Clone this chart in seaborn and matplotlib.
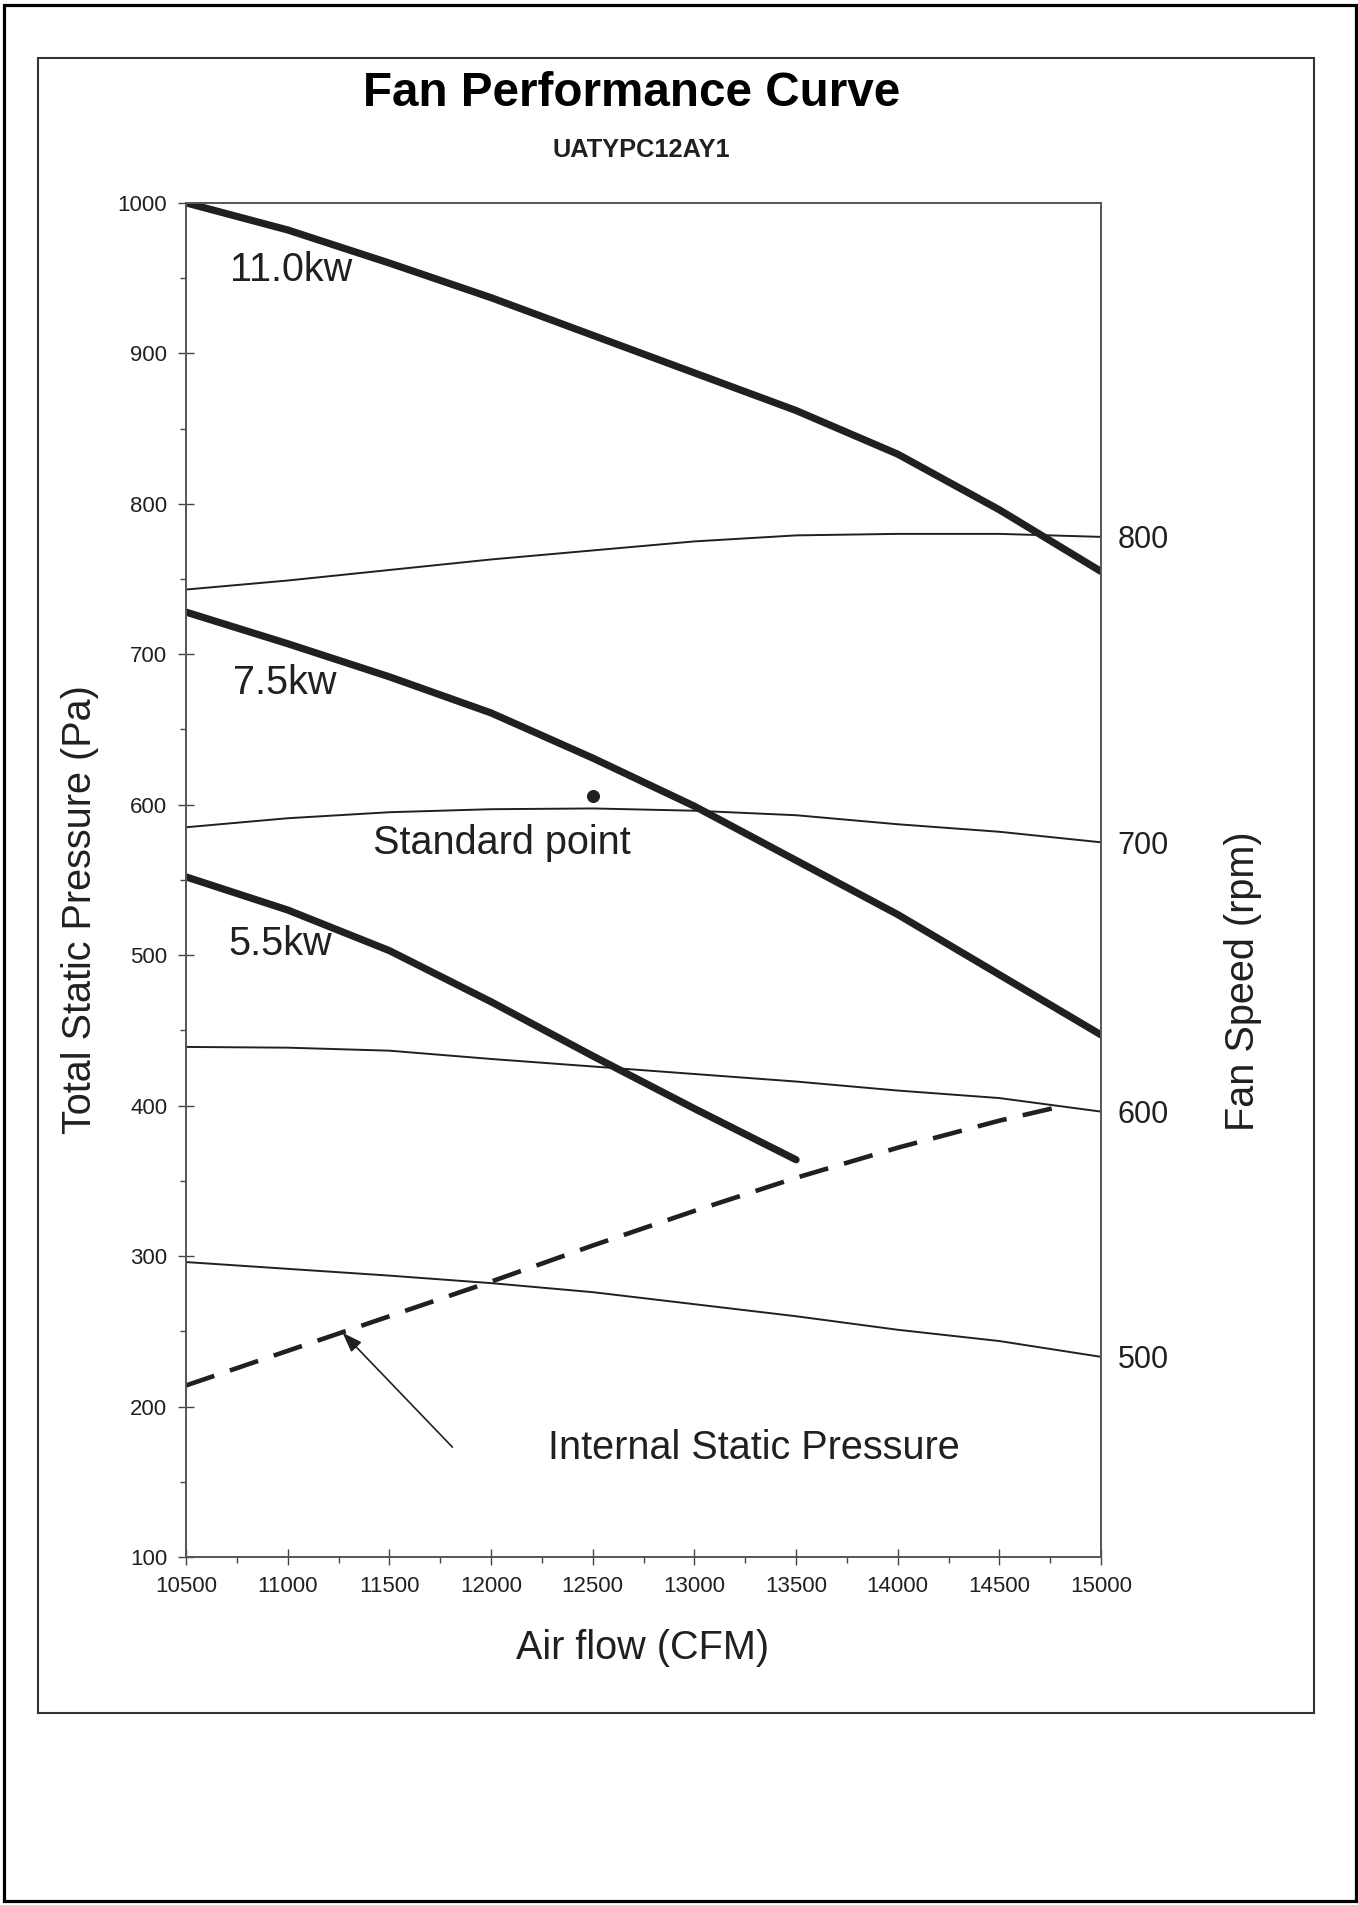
import matplotlib
matplotlib.use("Agg")
import matplotlib.pyplot as plt
from matplotlib.patches import Rectangle
from matplotlib.ticker import MultipleLocator
import seaborn as sns

# air flow grid (CFM)
airflow = [10500, 11000, 11500, 12000, 12500, 13000, 13500, 14000, 14500, 15000]

# motor power curves, total static pressure (Pa)
kw_11_0 = [1000, 982, 960, 937, 912, 887, 862, 833, 796, 755]
kw_7_5 = [728, 707, 685, 661, 631, 599, 563, 527, 487, 447]
kw_5_5 = [552, 530, 503, 469, 433, 398, 364]  # ends at 13500 CFM
kw_labels = ["11.0kw", "7.5kw", "5.5kw"]

# fan speed curves (Pa)
rpm_800 = [743, 749, 756, 763, 769, 775, 779, 780, 780, 778]
rpm_700 = [585, 591, 595, 597, 597.5, 596, 593, 587, 582, 575]
rpm_600 = [439, 438.5, 436.5, 431, 426, 421, 416, 410, 405, 396]
rpm_500 = [296, 291.5, 287, 282, 276, 268, 260, 251, 243.5, 233]
rpm_labels = ["800", "700", "600", "500"]

# internal static pressure line
isp_flow = [10500, 11000, 11500, 12000, 12500, 13000, 13500, 14000, 14500, 14820]
isp_pa = [214, 237, 260, 283, 307, 330, 352, 372, 390, 400]

# standard operating point
std_flow = [12500]
std_pa = [606]

sns.set_theme(style="white")
plt.rcParams['font.family'] = ['Liberation Sans', 'DejaVu Sans']
ink = '#231f20'

fig = plt.figure(figsize=(13.58, 19.05), dpi=100)
ax = fig.add_axes([0.137, 0.1827, 0.6738, 0.7108])

# thin fan speed curves
for vals in (rpm_800, rpm_700, rpm_600, rpm_500):
    sns.lineplot(x=airflow, y=vals, ax=ax, color=ink, lw=1.4,
                 estimator=None, sort=False)

# dashed internal static pressure
sns.lineplot(x=isp_flow, y=isp_pa, ax=ax, color=ink, lw=3.3,
             estimator=None, sort=False)
ax.lines[-1].set_dashes((6.5, 3.6))
ax.lines[-1].set_dash_capstyle('butt')

# thick power curves
for vals in (kw_11_0, kw_7_5, kw_5_5):
    sns.lineplot(x=airflow[:len(vals)], y=vals, ax=ax, color=ink, lw=5.2,
                 solid_capstyle='round', solid_joinstyle='round',
                 estimator=None, sort=False)

sns.scatterplot(x=std_flow, y=std_pa, ax=ax, color=ink, s=75,
                edgecolor=ink, zorder=5)

ax.set_xlim(10500, 15000)
ax.set_ylim(100, 1000)
ax.xaxis.set_major_locator(MultipleLocator(500))
ax.xaxis.set_minor_locator(MultipleLocator(250))
ax.yaxis.set_major_locator(MultipleLocator(100))
ax.yaxis.set_minor_locator(MultipleLocator(50))
ax.tick_params(which='major', direction='inout', length=11, width=1,
               color='#444444', labelsize=16, labelcolor=ink)
ax.tick_params(which='minor', direction='out', length=4.5, width=1,
               color='#444444')
ax.tick_params(axis='x', which='major', pad=8.5)
ax.tick_params(axis='y', which='major', pad=8)
ax.tick_params(which='both', bottom=True, left=True)
for sp in ax.spines.values():
    sp.set_color('#555555')
    sp.set_linewidth(1.2)

# right axis: rpm labels at the end of each speed curve
ax2 = ax.twinx()
ax2.set_ylim(100, 1000)
ax2.set_yticks([c[-1] for c in (rpm_800, rpm_700, rpm_600, rpm_500)], rpm_labels)
ax2.tick_params(axis='y', length=0, pad=12, labelsize=22, labelcolor=ink)
ax2.grid(False)
for sp in ax2.spines.values():
    sp.set_color('#555555')
    sp.set_linewidth(1.2)

big = 28.5
ax.set_xlabel("Air flow (CFM)", fontsize=big, color=ink, va='center')
ax.xaxis.set_label_coords(0.4984, -0.0672)
ax.set_ylabel("Total Static Pressure (Pa)", fontsize=big, color=ink, va='center')
ax.yaxis.set_label_coords(-0.1158, 0.4778)
ax2.set_ylabel("Fan Speed (rpm)", fontsize=big, color=ink, va='center')
ax2.yaxis.set_label_coords(1.1552, 0.4254)

# curve annotations
ax.text(10716, 948, kw_labels[0], fontsize=big, color=ink)
ax.text(10731, 673.5, kw_labels[1], fontsize=big, color=ink)
ax.text(10707, 500, kw_labels[2], fontsize=big, color=ink)
ax.text(11420, 567.5, "Standard point", fontsize=big, color=ink)
ax.text(12280, 165, "Internal Static Pressure", fontsize=big, color=ink)
ax.annotate('', xy=(11270, 249), xytext=(11810, 173),
            arrowprops=dict(arrowstyle='-|>,head_length=0.5,head_width=0.18',
                            color=ink, lw=1.2, mutation_scale=24,
                            shrinkA=0, shrinkB=0))

fig.text(632 / 1358, 1 - 106 / 1905, "Fan Performance Curve", fontsize=34.3,
         fontweight='bold', ha='center', va='baseline', color='black')
fig.text(641 / 1358, 1 - 157 / 1905, "UATYPC12AY1", fontsize=18.3,
         fontweight='bold', ha='center', va='baseline', color=ink)

# page frames
fig.add_artist(Rectangle((0.00295, 0.0021), 0.99558, 0.99528,
                         transform=fig.transFigure, fill=False, lw=2.3, ec='black'))
fig.add_artist(Rectangle((0.02776, 0.10094), 0.93984, 0.86877,
                         transform=fig.transFigure, fill=False, lw=1.5, ec='#333333'))

fig.savefig("out.png", dpi=100)
